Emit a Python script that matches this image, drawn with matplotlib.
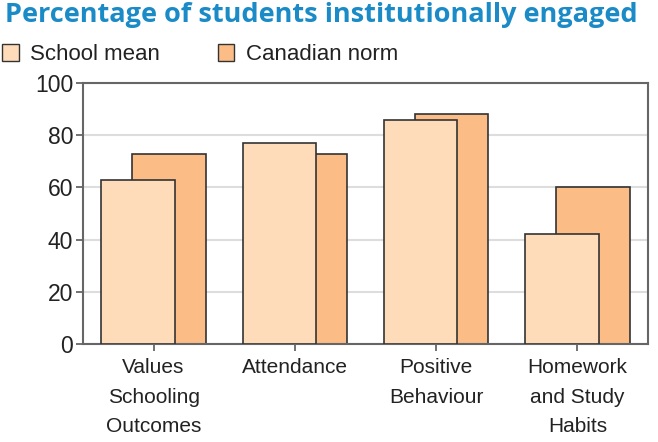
import matplotlib
matplotlib.use("Agg")
import matplotlib.pyplot as plt
import numpy as np
from matplotlib.patches import Patch

categories = ["Values\nSchooling\nOutcomes", "Attendance", "Positive\nBehaviour", "Homework\nand Study\nHabits"]
school_mean = [63, 77, 86, 42]
canadian_norm = [73, 73, 88, 60]
yticks = [0, 20, 40, 60, 80, 100]

plt.rcParams['font.family'] = ['Liberation Sans', 'DejaVu Sans']

fig = plt.figure(figsize=(6.58, 4.42), dpi=100)
ax = fig.add_axes([0.126, 0.222, 0.859, 0.590])

x = np.arange(len(categories))
w = 0.52
off = 0.11
c_school = "#FEDCBA"
c_canada = "#FBBC86"
edge = "#333333"

ax.bar(x + off, canadian_norm, width=w, color=c_canada, edgecolor=edge, linewidth=1.2, zorder=2)
ax.bar(x - off, school_mean, width=w, color=c_school, edgecolor=edge, linewidth=1.2, zorder=3)

ax.set_xlim(-0.5, 3.5)
ax.set_ylim(0, 100)
ax.set_yticks(yticks)
ax.set_yticklabels([str(v) for v in yticks], fontsize=16.5, color="#222222")
ax.set_xticks(x)
ax.set_xticklabels(categories, fontsize=15, color="#222222", linespacing=1.72)
ax.tick_params(axis='both', direction='out', length=5, width=1.3, color="#666666")
ax.tick_params(axis='x', pad=5)
ax.tick_params(axis='y', pad=2)
ax.yaxis.grid(True, color="#dddddd", linewidth=1.5, zorder=0)
ax.set_axisbelow(True)
for s in ax.spines.values():
    s.set_color("#666666")
    s.set_linewidth(1.5)

# Legend
handles = [Patch(facecolor=c_school, edgecolor=edge, linewidth=1.0, label="School mean"),
           Patch(facecolor=c_canada, edgecolor=edge, linewidth=1.0, label="Canadian norm")]
leg = fig.legend(handles=handles, loc="upper left", bbox_to_anchor=(-0.01, 0.92), ncol=2,
                 frameon=False, fontsize=16, handlelength=0.75, handleheight=0.75,
                 handletextpad=0.5, columnspacing=2.6, borderaxespad=0)
for t in leg.get_texts():
    t.set_color("#222222")

# Title
title = fig.text(0.008, 0.995, "Percentage of students institutionally engaged",
                 fontsize=20, fontweight="bold", color="#1A8BC6", family="Open Sans",
                 ha="left", va="top")
fig.canvas.draw()
bb = title.get_window_extent()
target = 634.0
title.set_fontsize(20 * target / bb.width)

fig.savefig("out.png", dpi=100)
